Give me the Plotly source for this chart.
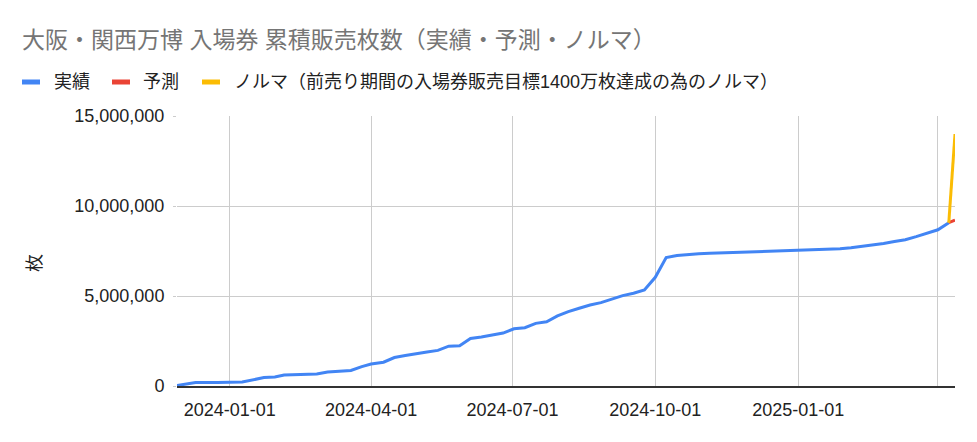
import plotly.graph_objects as go

# 実績 (actual cumulative sales)
actual_dates = [
    "2023-11-28", "2023-12-10", "2023-12-24", "2024-01-09", "2024-01-23", "2024-01-30",
    "2024-02-05", "2024-02-26", "2024-03-04", "2024-03-19", "2024-03-26", "2024-04-01",
    "2024-04-09", "2024-04-16", "2024-04-23", "2024-04-30", "2024-05-07", "2024-05-14",
    "2024-05-21", "2024-05-28", "2024-06-04", "2024-06-11", "2024-06-18", "2024-06-25",
    "2024-07-02", "2024-07-09", "2024-07-16", "2024-07-23", "2024-07-30", "2024-08-06",
    "2024-08-13", "2024-08-20", "2024-08-27", "2024-09-03", "2024-09-10", "2024-09-17",
    "2024-09-24", "2024-10-01", "2024-10-08", "2024-10-15", "2024-10-22", "2024-10-29",
    "2024-11-05", "2024-11-12", "2024-11-19", "2024-11-26", "2024-12-03", "2024-12-10",
    "2024-12-17", "2024-12-24", "2024-12-31", "2025-01-07", "2025-01-14", "2025-01-21",
    "2025-01-28", "2025-02-04", "2025-02-11", "2025-02-18", "2025-02-25", "2025-03-04",
    "2025-03-11", "2025-03-18", "2025-03-25", "2025-04-01", "2025-04-08",
]
actual_values = [
    30000, 190000, 200000, 220000, 470000, 500000,
    610000, 670000, 780000, 860000, 1080000, 1220000,
    1320000, 1580000, 1690000, 1810000, 1890000, 1980000,
    2210000, 2240000, 2640000, 2720000, 2810000, 2940000,
    3180000, 3240000, 3480000, 3570000, 3890000, 4130000,
    4320000, 4500000, 4630000, 4820000, 5020000, 5150000,
    5330000, 6040000, 7140000, 7250000, 7320000, 7350000,
    7370000, 7390000, 7410000, 7420000, 7440000, 7450000,
    7460000, 7480000, 7500000, 7520000, 7550000, 7580000,
    7620000, 7680000, 7750000, 7820000, 7920000, 8030000,
    8130000, 8300000, 8480000, 8680000, 9070000,
]

# 予測 (forecast)
forecast_dates = ["2025-04-08", "2025-04-12"]
forecast_values = [9070000, 9220000]

# ノルマ (quota)
quota_dates = ["2025-04-08", "2025-04-12"]
quota_values = [9070000, 14000000]

series_names = ["実績", "予測", "ノルマ（前売り期間の入場券販売目標1400万枚達成の為のノルマ）"]
series_colors = ["#4285F4", "#EA4335", "#FBBC04"]

x_tickvals = ["2024-01-01", "2024-04-01", "2024-07-01", "2024-10-01", "2025-01-01", "2025-04-01"]
x_ticktext = ["2024-01-01", "2024-04-01", "2024-07-01", "2024-10-01", "2025-01-01", ""]
y_tickvals = [0, 5000000, 10000000, 15000000]

FONT = "Arial, 'Liberation Sans', 'Noto Sans CJK JP', sans-serif"

# figure-pixel geometry (page body adds an 8px offset)
L, T, PW, PH = 169, 108, 778, 270


def px(fx):
    return (fx - L) / PW


def py(fy):
    return (T + PH - fy) / PH


fig = go.Figure()
for xs, ys, nm, col in [(actual_dates, actual_values, series_names[0], series_colors[0]),
                        (forecast_dates, forecast_values, series_names[1], series_colors[1]),
                        (quota_dates, quota_values, series_names[2], series_colors[2])]:
    fig.add_trace(go.Scatter(x=xs, y=ys, mode="lines", name=nm,
                             line=dict(color=col, width=3), showlegend=False))

# custom legend
legend_sample_x = [14, 104, 194]
legend_text_x = [44, 133, 224]
legend_y = 74
shapes = []
annotations = []
for sx, tx, nm, col in zip(legend_sample_x, legend_text_x, series_names, series_colors):
    shapes.append(dict(type="rect", xref="paper", yref="paper",
                       x0=px(sx), x1=px(sx + 18), y0=py(legend_y + 2.5), y1=py(legend_y - 2.5),
                       fillcolor=col, line=dict(width=0), layer="above"))
    annotations.append(dict(text=nm, xref="paper", yref="paper", x=px(tx), y=py(legend_y),
                            xanchor="left", yanchor="middle", showarrow=False,
                            font=dict(size=18, color="#222222")))

annotations.append(dict(text="枚", xref="paper", yref="paper",
                        x=px(27), y=py(255), xanchor="center", yanchor="middle",
                        textangle=-90, showarrow=False,
                        font=dict(size=18, color="#222222")))

fig.update_layout(
    width=977, height=442,
    margin=dict(l=L, r=977 - L - PW, t=T, b=442 - T - PH),
    paper_bgcolor="white", plot_bgcolor="white",
    font=dict(family=FONT, size=18, color="#222222"),
    title=dict(text="大阪・関西万博 入場券 累積販売枚数（実績・予測・ノルマ）",
               x=14/977, xref="container", xanchor="left",
               y=1-32/442, yref="container", yanchor="middle",
               font=dict(size=23, color="#757575")),
    showlegend=False,
    xaxis=dict(type="date", range=["2023-11-28", "2025-04-12"],
               tickvals=x_tickvals, ticktext=x_ticktext,
               showgrid=True, gridcolor="#cccccc", gridwidth=1,
               showline=True, linecolor="#333333", linewidth=2,
               ticks="", ticklabelstandoff=6,
               tickfont=dict(size=18, color="#222222"),
               zeroline=False),
    yaxis=dict(range=[0, 15000000], tickvals=y_tickvals, tickformat=",d",
               showgrid=True, gridcolor="#cccccc", gridwidth=1,
               zeroline=False, showline=False,
               ticks="outside", ticklen=3, tickcolor="#cccccc",
               ticklabelstandoff=5,
               tickfont=dict(size=18, color="#222222")),
    shapes=shapes,
    annotations=annotations,
)

fig.write_html("out.html")
